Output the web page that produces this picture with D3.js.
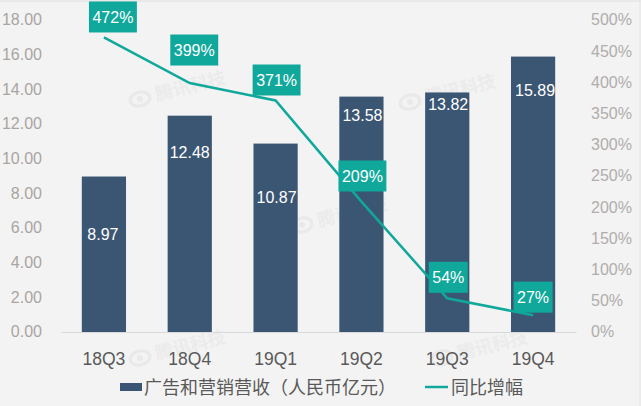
<!DOCTYPE html>
<html>
<head>
<meta charset="utf-8">
<script src="https://cdn.jsdelivr.net/npm/d3@7"></script>
<style>
  html, body { margin: 0; padding: 0; background: #f3f3f3; }
  svg { display: block; font-family: "Liberation Sans", Arial, sans-serif; }
  .legend-text { font-family: "Noto Sans CJK SC", sans-serif; font-size: 18px; fill: #595959; }
</style>
</head>
<body>
<svg id="chart" width="641" height="406"></svg>
<script>
const quarters = ["18Q3", "18Q4", "19Q1", "19Q2", "19Q3", "19Q4"];
const revenue = [8.97, 12.48, 10.87, 13.58, 13.82, 15.89];
const growth = [472, 399, 371, 209, 54, 27];
const revenueTicks = [0, 2, 4, 6, 8, 10, 12, 14, 16, 18];
const growthTicks = [0, 50, 100, 150, 200, 250, 300, 350, 400, 450, 500];
const revenueName = "广告和营销营收（人民币亿元）";
const growthName = "同比增幅";

// hand placed label offsets, the original has them dragged around
const revenueLabelDrop = [57.5, 37, 54, 19, 11.5, 34];
const revenueLabelShift = [-1, 0, 1, 1, 1, 2];
const growthLabelLift = [20.5, 33, 20.5, 25.6, 21, 18];
const growthLabelShift = [9, 4.5, 1, 1, 1, 0];

const plotLeft = 61, plotRight = 576, plotTop = 20, plotBottom = 332;
const barColor = "#3b5673";
const lineColor = "#10a89b";

const svg = d3.select("#chart");

const x = d3.scaleBand().domain(quarters).range([plotLeft, plotRight]).paddingInner(0.485).paddingOuter(0.2425);
const y = d3.scaleLinear().domain([0, 18]).range([plotBottom, plotTop]);
const y2 = d3.scaleLinear().domain([0, 500]).range([plotBottom, plotTop]);
const cx = d => x(d) + x.bandwidth() / 2;

// frame edges
svg.append("line").attr("x1", 0).attr("x2", 641).attr("y1", 1).attr("y2", 1).attr("stroke", "#dedede");
svg.append("line").attr("x1", 640).attr("x2", 640).attr("y1", 1).attr("y2", 406).attr("stroke", "#e4e4e4");

// watermarks
const marks = [[140, 99], [140, 358], [302, 225], [410, 102], [442, 358]];
const wm = svg.append("g").selectAll("g").data(marks).enter().append("g")
  .attr("transform", d => `translate(${d[0]},${d[1]}) rotate(-14)`);
wm.append("ellipse").attr("rx", 10).attr("ry", 7).attr("fill", "none").attr("stroke", "#e9e9e9").attr("stroke-width", 3);
wm.append("circle").attr("r", 3).attr("fill", "#e9e9e9");
wm.append("text").attr("x", 16).attr("y", 6).text("腾讯科技")
  .style("font-family", '"Noto Sans CJK SC", sans-serif').style("font-size", "18px").style("font-weight", 700)
  .attr("fill", "#ebebeb");

// bars
svg.append("g").selectAll("rect").data(revenue).enter().append("rect")
  .attr("x", (d, i) => x(quarters[i]))
  .attr("y", d => y(d))
  .attr("width", x.bandwidth())
  .attr("height", d => y(0) - y(d))
  .attr("fill", barColor);

// axes
const axisL = d3.axisLeft(y).tickValues(revenueTicks).tickFormat(d3.format(".2f")).tickSize(0).tickPadding(19);
const gl = svg.append("g").attr("transform", `translate(${plotLeft},0)`).call(axisL);
gl.select(".domain").remove();
gl.selectAll("text").attr("fill", "#a9a5a2").style("font-size", "16px").attr("dy", "0.3em");

const axisR = d3.axisRight(y2).tickValues(growthTicks).tickFormat(d => d + "%").tickSize(0).tickPadding(15);
const gr = svg.append("g").attr("transform", `translate(${plotRight},0)`).call(axisR);
gr.select(".domain").remove();
gr.selectAll("text").attr("fill", "#b0adab").style("font-size", "16px").attr("dy", "0.3em");

const axisB = d3.axisBottom(x).tickSize(0).tickPadding(21);
const gb = svg.append("g").attr("transform", `translate(0,${plotBottom})`).call(axisB);
gb.select(".domain").attr("stroke", "#d9d9d9");
gb.selectAll("text").attr("fill", "#595959").style("font-size", "17.5px");

// growth line
const growthLine = d3.line().x((d, i) => cx(quarters[i])).y(d => y2(d));
svg.append("path").datum(growth).attr("d", growthLine)
  .attr("fill", "none").attr("stroke", lineColor).attr("stroke-width", 2.5);

// revenue labels
svg.append("g").selectAll("text").data(revenue).enter().append("text")
  .attr("x", (d, i) => cx(quarters[i]) + revenueLabelShift[i])
  .attr("y", (d, i) => y(d) + revenueLabelDrop[i])
  .attr("dy", "0.35em")
  .attr("text-anchor", "middle")
  .attr("fill", "#ffffff")
  .style("font-size", "16px")
  .text(d => d.toFixed(2));

// growth labels in boxes
const tags = svg.append("g").selectAll("g").data(growth).enter().append("g")
  .attr("transform", (d, i) => `translate(${cx(quarters[i]) + growthLabelShift[i]},${y2(d) - growthLabelLift[i]})`);
tags.append("text")
  .attr("dy", "0.35em")
  .attr("text-anchor", "middle")
  .attr("fill", "#ffffff")
  .style("font-size", "16px")
  .text(d => d + "%");
tags.insert("rect", "text")
  .attr("fill", lineColor)
  .attr("height", 31)
  .attr("y", -15.5)
  .each(function () {
    const w = this.parentNode.querySelector("text").getComputedTextLength() + 7;
    d3.select(this).attr("x", -w / 2).attr("width", w);
  });

// legend
svg.append("rect").attr("x", 120).attr("y", 383).attr("width", 22).attr("height", 8).attr("fill", barColor);
svg.append("text").attr("class", "legend-text").attr("x", 144).attr("y", 393.5).text(revenueName);
svg.append("line").attr("x1", 425).attr("x2", 448).attr("y1", 387).attr("y2", 387)
  .attr("stroke", lineColor).attr("stroke-width", 2.5);
svg.append("text").attr("class", "legend-text").attr("x", 451).attr("y", 393.5).text(growthName);
</script>
</body>
</html>
